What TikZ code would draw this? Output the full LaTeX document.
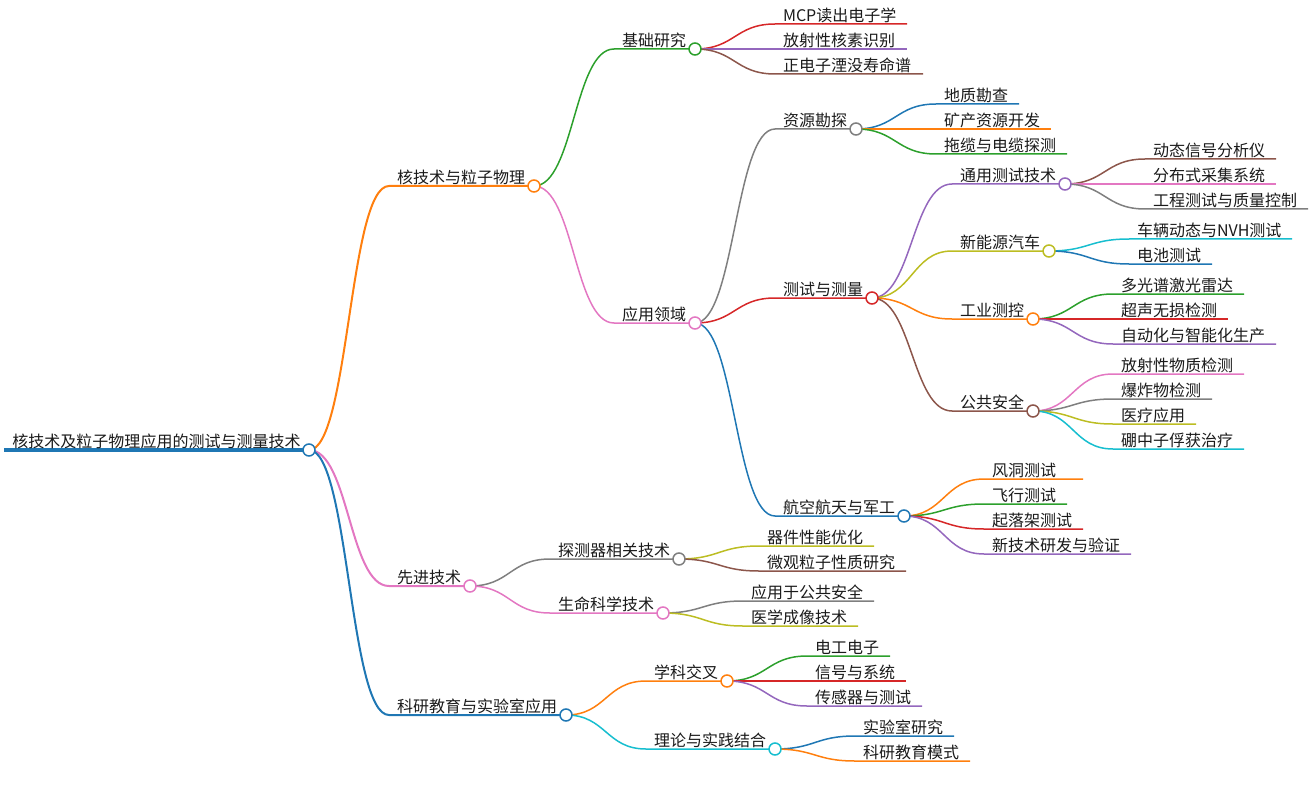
\documentclass[tikz,border=0pt]{standalone}
\usepackage{fontspec}
\setmainfont{Noto Sans CJK SC}
\usetikzlibrary{calc}
\pgfdeclarelayer{bg}
\pgfsetlayers{bg,main}
\definecolor{cblue}{HTML}{1F77B4}
\definecolor{corange}{HTML}{FF7F0E}
\definecolor{cgreen}{HTML}{2CA02C}
\definecolor{cred}{HTML}{D62728}
\definecolor{cpurple}{HTML}{9467BD}
\definecolor{cbrown}{HTML}{8C564B}
\definecolor{cpink}{HTML}{E377C2}
\definecolor{cgrey}{HTML}{7F7F7F}
\definecolor{colive}{HTML}{BCBD22}
\definecolor{ccyan}{HTML}{17BECF}
\definecolor{ctext}{HTML}{1A1A1A}
\tikzset{
  label text/.style={anchor=base west,inner sep=0pt,outer sep=0pt,text=ctext,font=\fontsize{16}{16}\selectfont},
  knot/.style={circle,draw=#1,fill=white,line width=1.5pt,minimum size=12pt,inner sep=0pt},
  link/.style={draw=#1,line width=1.5pt},
  thick link/.style={draw=#1,line width=2pt}
}
% #1 link style  #2 id  #3 parent  #4 colour  #5 start x  #6 end x  #7 y  #8 text
\newcommand{\twig}[8]{%
  \coordinate (#2-s) at (#5,#7);
  \coordinate (#2) at (#6,#7);
  \node[label text] (#2-t) at (#5+8,#7-2.5) {#8};
  \begin{pgfonlayer}{bg}
    \draw[#1=#4] (#3.center) .. controls ($(#3.center)!0.5!(#3.center -| #2-s)$) and ($(#2-s)!0.5!(#2-s -| #3.center)$) .. (#2-s) -- (#2);
  \end{pgfonlayer}
}
\newcommand{\bough}[8]{%
  \node[knot=#4] (#2) at (#6,#7) {};
  \coordinate (#2-s) at (#5,#7);
  \node[label text] (#2-t) at (#5+8,#7-2.5) {#8};
  \begin{pgfonlayer}{bg}
    \draw[#1=#4] (#3.center) .. controls ($(#3.center)!0.5!(#3.center -| #2-s)$) and ($(#2-s)!0.5!(#2-s -| #3.center)$) .. (#2-s) -- (#2.center);
  \end{pgfonlayer}
}
\begin{document}
\begin{tikzpicture}[x=1pt,y=-1pt]
\useasboundingbox (0,0) rectangle (1313,786);
% root
\coordinate (root-s) at (4,450);
\node[knot=cblue] (root) at (309,450) {};
\node[label text] (root-t) at (12.5,447) {核技术及粒子物理应用的测试与测量技术};
\begin{pgfonlayer}{bg}
  \draw[cblue,line width=4pt] (root-s) -- (root.center);
\end{pgfonlayer}
% level 1
\bough{thick link}{a}{root}{corange}{389}{534}{186}{核技术与粒子物理}
\bough{thick link}{b}{root}{cpink}{389}{470}{586}{先进技术}
\bough{thick link}{c}{root}{cblue}{389}{566}{715}{科研教育与实验室应用}
% a
\bough{link}{a1}{a}{cgreen}{614}{695}{49}{基础研究}
\bough{link}{a2}{a}{cpink}{614}{695}{323}{应用领域}
\twig{link}{a11}{a1}{cred}{775}{907}{24}{MCP读出电子学}
\twig{link}{a12}{a1}{cpurple}{775}{907}{49}{放射性核素识别}
\twig{link}{a13}{a1}{cbrown}{775}{923}{74}{正电子湮没寿命谱}
% a2
\bough{link}{r}{a2}{cgrey}{775}{856}{129}{资源勘探}
\bough{link}{t}{a2}{cred}{775}{872}{298}{测试与测量}
\bough{link}{h}{a2}{cblue}{775}{904}{516}{航空航天与军工}
\twig{link}{r1}{r}{cblue}{936}{1019}{104}{地质勘查}
\twig{link}{r2}{r}{corange}{936}{1051}{129}{矿产资源开发}
\twig{link}{r3}{r}{cgreen}{936}{1067}{154}{拖缆与电缆探测}
% t
\bough{link}{t1}{t}{cpurple}{952}{1065}{184}{通用测试技术}
\bough{link}{t2}{t}{colive}{952}{1049}{251}{新能源汽车}
\bough{link}{t3}{t}{corange}{952}{1033}{319}{工业测控}
\bough{link}{t4}{t}{cbrown}{952}{1033}{411}{公共安全}
\twig{link}{t11}{t1}{cbrown}{1145}{1276}{159}{动态信号分析仪}
\twig{link}{t12}{t1}{cpink}{1145}{1276}{184}{分布式采集系统}
\twig{link}{t13}{t1}{cgrey}{1145}{1308}{209}{工程测试与质量控制}
\twig{link}{t21}{t2}{ccyan}{1129}{1292}{239}{车辆动态与NVH测试}
\twig{link}{t22}{t2}{cblue}{1129}{1212}{264}{电池测试}
\twig{link}{t31}{t3}{cgreen}{1113}{1244}{294}{多光谱激光雷达}
\twig{link}{t32}{t3}{cred}{1113}{1228}{319}{超声无损检测}
\twig{link}{t33}{t3}{cpurple}{1113}{1276}{344}{自动化与智能化生产}
\twig{link}{t41}{t4}{cpink}{1113}{1244}{374}{放射性物质检测}
\twig{link}{t42}{t4}{cgrey}{1113}{1212}{399}{爆炸物检测}
\twig{link}{t43}{t4}{colive}{1113}{1196}{424}{医疗应用}
\twig{link}{t44}{t4}{ccyan}{1113}{1244}{449}{硼中子俘获治疗}
% h
\twig{link}{h1}{h}{corange}{984}{1083}{479}{风洞测试}
\twig{link}{h2}{h}{cgreen}{984}{1067}{504}{飞行测试}
\twig{link}{h3}{h}{cred}{984}{1083}{529}{起落架测试}
\twig{link}{h4}{h}{cpurple}{984}{1131}{554}{新技术研发与验证}
% b
\bough{link}{b1}{b}{cgrey}{550}{679}{559}{探测器相关技术}
\bough{link}{b2}{b}{cpink}{550}{663}{613}{生命科学技术}
\twig{link}{b11}{b1}{colive}{759}{874}{546}{器件性能优化}
\twig{link}{b12}{b1}{cbrown}{759}{906}{571}{微观粒子性质研究}
\twig{link}{b21}{b2}{cgrey}{743}{874}{601}{应用于公共安全}
\twig{link}{b22}{b2}{colive}{743}{858}{626}{医学成像技术}
% c
\bough{link}{c1}{c}{corange}{646}{727}{681}{学科交叉}
\bough{link}{c2}{c}{ccyan}{646}{775}{749}{理论与实践结合}
\twig{link}{c11}{c1}{cgreen}{807}{890}{656}{电工电子}
\twig{link}{c12}{c1}{cred}{807}{906}{681}{信号与系统}
\twig{link}{c13}{c1}{cpurple}{807}{922}{706}{传感器与测试}
\twig{link}{c21}{c2}{cblue}{855}{954}{736}{实验室研究}
\twig{link}{c22}{c2}{corange}{855}{970}{761}{科研教育模式}
\end{tikzpicture}
\end{document}
